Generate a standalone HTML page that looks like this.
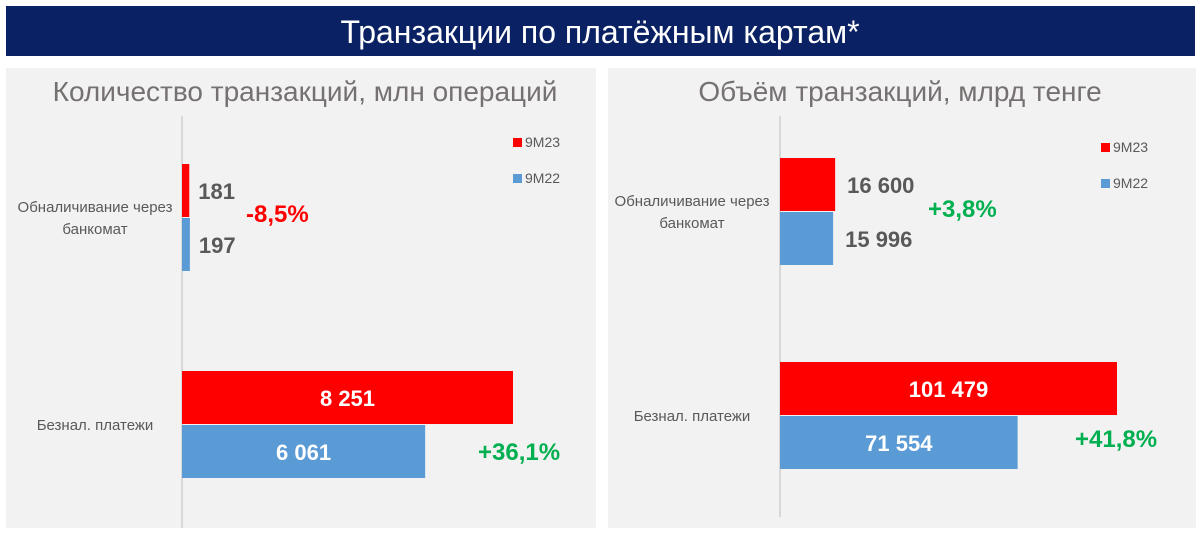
<!DOCTYPE html>
<html><head><meta charset="utf-8">
<style>
html,body{margin:0;padding:0;background:#fff;width:1200px;height:536px;overflow:hidden}
svg{display:block}
text{font-family:"Liberation Sans Narrow","Liberation Sans",sans-serif}
</style></head><body>
<svg id="c" width="1200" height="536">
<rect x="6" y="6" width="1189" height="50" fill="#0a2263"/>
<text x="600" y="43" text-anchor="middle" fill="#fff" font-size="32">Транзакции по платёжным картам*</text>
<rect x="6" y="68" width="590" height="460" fill="#f2f2f2"/>
<rect x="608" y="68" width="588" height="460" fill="#f2f2f2"/>
<text x="305" y="101" text-anchor="middle" fill="#767171" font-size="28">Количество транзакций, млн операций</text>
<text x="900" y="101" text-anchor="middle" fill="#767171" font-size="28">Объём транзакций, млрд тенге</text>
<g id="g"></g>
</svg>
<script>
const categories=["Обналичивание через банкомат","Безнал. платежи"];
const leftS23=[181,8251];
const leftS22=[197,6061];
const leftLabels23=["181","8 251"];
const leftLabels22=["197","6 061"];
const leftChange=["-8,5%","+36,1%"];
const rightS23=[16600,101479];
const rightS22=[15996,71554];
const rightLabels23=["16 600","101 479"];
const rightLabels22=["15 996","71 554"];
const rightChange=["+3,8%","+41,8%"];
const seriesNames=["9M23","9M22"];

const NS="http://www.w3.org/2000/svg";
const g=document.getElementById('g');
function mk(t,a,txt){const e=document.createElementNS(NS,t);for(const k in a)e.setAttribute(k,a[k]);if(txt!==undefined)e.textContent=txt;g.appendChild(e);return e;}
function panel(p,cfg){
  const x=v=>cfg.x0+v*cfg.k;
  const ax=mk('line',{x1:cfg.x0,y1:cfg.axTop,x2:cfg.x0,y2:cfg.axBot,stroke:'#d0d0d0','stroke-width':1.5});
  
  categories.forEach((c,i)=>{
    const yt=cfg.yTop[i],h=cfg.h;
    const vals=[cfg.s23[i],cfg.s22[i]],labs=[cfg.l23[i],cfg.l22[i]],cols=['#ff0000','#5b9bd5'];
    vals.forEach((v,j)=>{
      const y=yt+j*h;
      const r=mk('rect',{x:cfg.x0,y:y,width:x(v)-cfg.x0,height:h-1,fill:cols[j]});
      
      const w=x(v)-cfg.x0;
      let t;
      if(w>120){t=mk('text',{x:cfg.x0+w/2,y:y+h/2+8,'text-anchor':'middle',fill:'#fff','font-size':22,'font-weight':'bold'},labs[j]);}
      else{t=mk('text',{x:x(v)+cfg.lblGap,y:y+h/2+8,fill:'#595959','font-size':22,'font-weight':'bold'},labs[j]);}
      
    });
    const ch=cfg.ch[i];
    const ct=mk('text',{x:cfg.chX[i],y:cfg.chY[i],fill:ch[0]=='-'?'#ff0000':'#00b050','font-size':24,'font-weight':'bold'},ch);
    
    const lines=i==0?["Обналичивание через","банкомат"]:[c];
    lines.forEach((ln,k)=>{
      const off=(k-(lines.length-1)/2)*22;
      const lt=mk('text',{x:cfg.catX,y:yt+h+5+off,'text-anchor':'middle',fill:'#595959','font-size':15},ln);
      
    });
  });
  seriesNames.forEach((s,j)=>{
    const y=cfg.legY+j*36;
    const r=mk('rect',{x:cfg.legX,y:y-9,width:9,height:9,fill:j?'#5b9bd5':'#ff0000'});
    
    const t=mk('text',{x:cfg.legX+12,y:y,fill:'#595959','font-size':14},s);
    
  });
}
panel('left',{x0:182,k:331/8251,axTop:116,axBot:528,yTop:[164,371],h:54,s23:leftS23,s22:leftS22,l23:leftLabels23,l22:leftLabels22,ch:leftChange,chX:[246,478],chY:[222,460],catX:95,lblGap:9,legX:513,legY:147});
panel('right',{x0:780,k:337/101479,axTop:116,axBot:517,yTop:[158,362],h:54,s23:rightS23,s22:rightS22,l23:rightLabels23,l22:rightLabels22,ch:rightChange,chX:[928,1075],chY:[217,447],catX:692,lblGap:12,legX:1101,legY:152});
</script>
</body></html>
